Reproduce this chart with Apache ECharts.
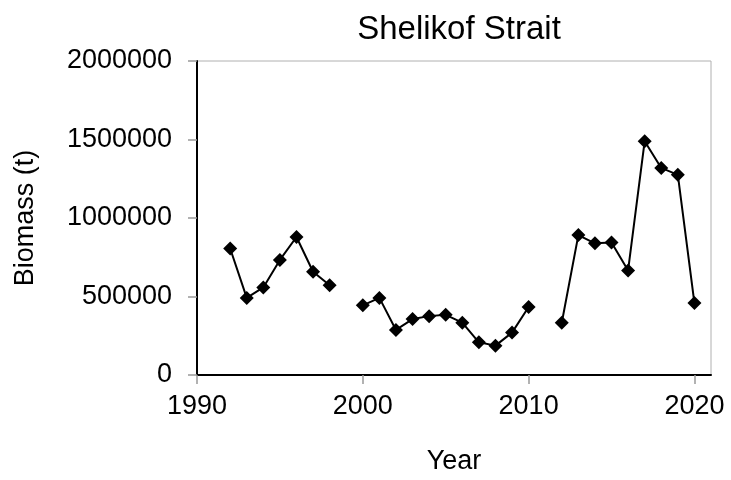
<!DOCTYPE html>
<html>
<head>
<meta charset="utf-8">
<script src="https://cdn.jsdelivr.net/npm/echarts@6/dist/echarts.min.js"></script>
<style>
  html, body { margin: 0; padding: 0; background: #fff; }
  #chart1 { width: 731px; height: 480px; }
</style>
</head>
<body>
<div id="chart1"></div>
<script>
// survey years and biomass (t); null = no survey
const years = [1992, 1993, 1994, 1995, 1996, 1997, 1998, 1999, 2000, 2001, 2002, 2003, 2004, 2005,
  2006, 2007, 2008, 2009, 2010, 2011, 2012, 2013, 2014, 2015, 2016, 2017, 2018, 2019, 2020];
const biomass = [806000, 491000, 558000, 733000, 879000, 658000, 571000, null, 444000, 491000,
  287000, 356000, 375000, 383000, 333000, 208000, 187000, 270000, 433000, null, 333000,
  891000, 839000, 844000, 666000, 1489000, 1319000, 1275000, 458000];
const xTicks = [1990, 2000, 2010, 2020];

const fontName = 'Liberation Sans';

let chartDiv = document.getElementById('chart1');
let myChart = echarts.init(chartDiv, null, { renderer: 'canvas' });

let seriesData = years.map((y, i) => [y, biomass[i]]);

let option = {
  animation: false,
  title: {
    text: 'Shelikof Strait',
    left: 454,
    textAlign: 'center',
    top: 8,
    textStyle: { fontFamily: fontName, fontSize: 33, fontWeight: 'normal', color: '#000' }
  },
  grid: {
    left: 197,
    right: 20,
    top: 61,
    bottom: 101,
    show: true,
    borderColor: '#b0b0b0',
    borderWidth: 1
  },
  xAxis: {
    type: 'value',
    min: 1990,
    max: 2021,
    interval: 10,
    name: 'Year',
    nameLocation: 'middle',
    nameGap: 73,
    nameTextStyle: { fontFamily: fontName, fontSize: 27, color: '#000' },
    axisLine: { show: true, lineStyle: { color: '#000', width: 2 } },
    axisTick: { show: true, customValues: xTicks, length: 9, lineStyle: { color: '#999', width: 1.5 } },
    axisLabel: { customValues: xTicks, margin: 18, fontFamily: fontName, fontSize: 27, color: '#000',
      formatter: v => String(v) },
    splitLine: { show: false }
  },
  yAxis: {
    type: 'value',
    min: 0,
    max: 2000000,
    interval: 500000,
    name: 'Biomass (t)',
    nameLocation: 'middle',
    nameGap: 158,
    nameTextStyle: { fontFamily: fontName, fontSize: 27, color: '#000' },
    axisLine: { show: true, lineStyle: { color: '#000', width: 2 } },
    axisTick: { show: true, length: 9, lineStyle: { color: '#999', width: 1.5 } },
    axisLabel: { margin: 25, fontFamily: fontName, fontSize: 27, color: '#000',
      formatter: v => String(v) },
    splitLine: { show: false }
  },
  series: [
    {
      type: 'line',
      data: seriesData,
      connectNulls: false,
      symbol: 'diamond',
      symbolSize: 14,
      itemStyle: { color: '#000' },
      lineStyle: { color: '#000', width: 2 }
    }
  ]
};

myChart.setOption(option);
</script>
</body>
</html>
